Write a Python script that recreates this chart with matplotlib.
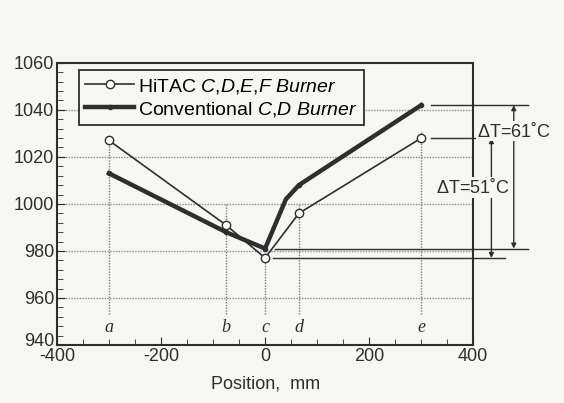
import numpy as np
import matplotlib.pyplot as plt
from matplotlib.transforms import ScaledTranslation

plt.rcParams['font.family'] = 'Liberation Sans'
plt.rcParams['mathtext.fontset'] = 'custom'
plt.rcParams['mathtext.rm'] = 'Liberation Sans'
plt.rcParams['mathtext.it'] = 'Liberation Sans:italic'
plt.rcParams['axes.unicode_minus'] = False

# furnace temperature along the burner axis
hitac_x = [-300, -75, 0, 65, 300]
hitac_t = [1027, 991, 977, 996, 1028]
conv_x = [-300, -75, 0, 40, 65, 300]
conv_t = [1013, 988, 981, 1002, 1008, 1042]
pos_names = ['a', 'b', 'c', 'd', 'e']
pos_x = [-300, -75, 0, 65, 300]
pos_top = [1027, 1000, 977, 1000, 1031]
dt_hitac = 51
dt_conv = 61

ink = '#2e2e2e'
bg = '#f6f7f3'

fig = plt.figure(figsize=(5.64, 4.03), dpi=100, facecolor=bg)
ax = fig.add_axes([0.101, 0.144, 0.738, 0.70], facecolor=bg)

ax.set_xlim(-400, 400)
ax.set_ylim(940, 1060)

for y in [960, 980, 1000, 1020, 1040]:
    ax.axhline(y, color='#8a8a8a', lw=1.0, ls=(0, (1, 1)), zorder=1)
for name, x, top in zip(pos_names, pos_x, pos_top):
    ax.plot([x, x], [953, top], color='#7a7a7a', lw=1.0, ls=(0, (1, 1)), zorder=1)
    ax.text(x, 947.5, name, ha='center', va='center', fontsize=13,
            family='Liberation Serif', style='italic', color=ink)

# {,} keeps mathtext from padding the commas
ax.plot(hitac_x, hitac_t, color=ink, lw=1.2, marker='o', ms=6,
        mfc='white', mec=ink, mew=1.0, zorder=4,
        label='HiTAC $\\mathit{C{,}D{,}E{,}F\\ Burner}$')
ax.plot(conv_x, conv_t, color=ink, lw=3.2, marker='o', ms=3,
        mfc=ink, mec=ink, markevery=[0, 1, 2, 4, 5], zorder=3,
        label='Conventional $\\mathit{C{,}D\\ Burner}$')

# temperature difference brackets on the right
c_hi = hitac_t[2]
e_hi = hitac_t[-1]
c_cv = conv_t[2]
e_cv = conv_t[-1]
line_kw = dict(color=ink, lw=1.0, clip_on=False, zorder=5)
ax.plot([318, 505], [e_cv, e_cv], **line_kw)
ax.plot([20, 505], [c_cv, c_cv], **line_kw)
ax.plot([318, 462], [e_hi, e_hi], **line_kw)
ax.plot([15, 462], [c_hi, c_hi], **line_kw)

arrow_kw = dict(arrowstyle='<|-|>', color=ink, lw=1.0, mutation_scale=7,
                shrinkA=0, shrinkB=0)
ax.annotate('', xy=(478, e_cv), xytext=(478, c_cv),
            arrowprops=arrow_kw, annotation_clip=False)
ax.annotate('', xy=(435, e_hi), xytext=(435, c_hi),
            arrowprops=arrow_kw, annotation_clip=False)
ax.text(478, 1031, '$\\Delta$T=%d˚C' % dt_conv, ha='center', va='center',
        fontsize=13, color=ink, zorder=6, clip_on=False,
        bbox=dict(boxstyle='square,pad=0.05', fc=bg, ec='none'))
ax.text(400, 1007, '$\\Delta$T=%d˚C' % dt_hitac, ha='center', va='center',
        fontsize=13, color=ink, zorder=6, clip_on=False,
        bbox=dict(boxstyle='square,pad=0.05', fc=bg, ec='none'))

ax.set_xticks([-400, -200, 0, 200, 400])
ax.set_xticks(np.arange(-400, 401, 50), minor=True)
ax.set_yticks([940, 960, 980, 1000, 1020, 1040, 1060])
ax.set_yticks(np.arange(940, 1061, 4), minor=True)
ax.tick_params(which='both', direction='in', color=ink, top=False, right=False)
ax.tick_params(which='major', length=6, labelsize=13, labelcolor=ink, pad=2)
ax.tick_params(which='minor', length=4)
for s in ax.spines.values():
    s.set_color(ink)
    s.set_linewidth(1.5)
    s.set_zorder(5)

# lift the bottom y label off the corner, like the x labels sit below it
fig.canvas.draw()
ylab0 = ax.get_yticklabels()[0]
ylab0.set_transform(ylab0.get_transform() + ScaledTranslation(0, 4 / 72, fig.dpi_scale_trans))

ax.set_xlabel('Position,  mm', fontsize=13, color=ink, labelpad=8)

leg = ax.legend(loc='upper left', bbox_to_anchor=(0.052, 0.975), fontsize=14,
                frameon=True, fancybox=False, edgecolor=ink, facecolor=bg,
                framealpha=1, handlelength=2.5, handletextpad=0.2,
                borderpad=0.35, labelspacing=0.2, borderaxespad=0)
leg.get_frame().set_linewidth(1.3)
leg.set_zorder(7)

fig.savefig('out.png', dpi=100, facecolor=bg)
